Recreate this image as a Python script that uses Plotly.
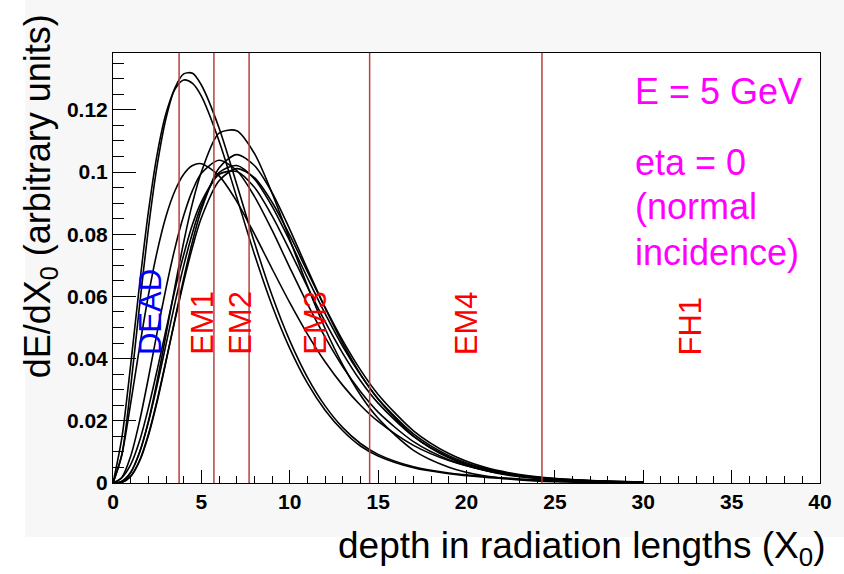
import plotly.graph_objects as go

# Depth grid (radiation lengths) shared by all longitudinal profiles
depth = [0, 0.5, 1, 1.5, 2, 2.5, 3, 3.5, 4, 4.5, 5, 6, 7, 8, 9, 10,
         11, 12, 13, 14, 15, 17, 19, 21, 23, 25, 27, 30]

# dE/dX0 profiles for individual 5 GeV showers
profile_1 = [0, .0091, .0309, .0569, .0817, .1022, .1173, .1270, .1316, .1318, .1280, .1142,
             .0961, .0774, .0603, .0458, .0340, .0248, .0178, .0127, .0092, .0052, .0032,
             .0021, .0013, .0008, .0004, .0001]
profile_2 = [0, .0145, .0380, .0637, .0871, .1058, .1189, .1266, .1296, .1285, .1244, .1100,
             .0919, .0736, .0571, .0433, .0321, .0234, .0168, .0119, .0087, .0049, .0030,
             .0019, .0012, .0007, .0004, .0001]
profile_3 = [0, .0091, .0256, .0436, .0603, .0745, .0858, .0939, .0993, .1021, .1027, .0988,
             .0906, .0801, .0689, .0580, .0479, .0390, .0314, .0250, .0198, .0121, .0072,
             .0042, .0024, .0014, .0008, .0003]
profile_4 = [0, .0006, .0034, .0098, .0198, .0329, .0477, .0630, .0775, .0901, .1000, .1125,
             .1133, .1060, .0932, .0784, .0634, .0497, .0380, .0283, .0208, .0105, .0051,
             .0023, .0010, .0004, .0002, 0]
profile_5 = [0, .0002, .0021, .0070, .0152, .0262, .0391, .0526, .0658, .0778, .0879, .1013,
             .1056, .1021, .0934, .0816, .0688, .0563, .0449, .0350, .0269, .0151, .0081,
             .0041, .0020, .0010, .0005, .0001]
profile_6 = [0, .0018, .0086, .0198, .0337, .0485, .0627, .0754, .0860, .0941, .0996, .1038,
             .1005, .0922, .0813, .0693, .0576, .0469, .0374, .0294, .0228, .0133, .0075,
             .0041, .0022, .0011, .0006, .0002]
profile_7 = [0, .0005, .0034, .0098, .0195, .0315, .0446, .0577, .0699, .0805, .0892, .0998,
             .1021, .0978, .0890, .0779, .0660, .0545, .0439, .0348, .0271, .0158, .0088,
             .0047, .0025, .0013, .0007, .0002]
profile_8 = [0, .0002, .0022, .0072, .0156, .0267, .0394, .0522, .0647, .0759, .0853, .0972,
             .1011, .0982, .0903, .0797, .0680, .0565, .0458, .0364, .0285, .0168, .0095,
             .0051, .0027, .0014, .0008, .0002]
profile_9 = [0, .0017, .0059, .0135, .0241, .0364, .0493, .0620, .0734, .0832, .0904, .0993,
             .1002, .0951, .0859, .0748, .0631, .0519, .0417, .0329, .0257, .0150, .0084,
             .0045, .0024, .0012, .0006, .0002]
profiles = [profile_1, profile_2, profile_3, profile_4, profile_5,
            profile_6, profile_7, profile_8, profile_9]

# Calorimeter layer boundaries and layer names
boundaries = [3.74, 5.71, 7.70, 14.52, 24.27]
layer_names = ["DEAD", "EM1", "EM2", "EM3", "EM4", "FH1"]
layer_label_x = [2.09, 5.02, 7.17, 11.46, 19.98, 32.7]
layer_colors = ["#0000ff", "#ff0000", "#ff0000", "#ff0000", "#ff0000", "#ff0000"]
layer_label_y = 0.0405

x_ticks = [0, 5, 10, 15, 20, 25, 30, 35, 40]
y_ticks = [0, 0.02, 0.04, 0.06, 0.08, 0.1, 0.12]

FONT = "Liberation Sans, Arial, Helvetica, sans-serif"

fig = go.Figure()
for prof in profiles:
    fig.add_trace(go.Scatter(
        x=depth, y=prof, mode="lines",
        line=dict(color="black", width=1.6, shape="spline", smoothing=0.8),
        showlegend=False, hoverinfo="skip"))

shapes = []
# layer boundaries as vertical lines over the full pad height
for b in boundaries:
    shapes.append(dict(type="line", xref="x", yref="paper", x0=b, x1=b, y0=0, y1=1,
                       line=dict(color="#b8403c", width=1.5), layer="above"))

annotations = []
for name, xl, col in zip(layer_names, layer_label_x, layer_colors):
    annotations.append(dict(x=xl, y=layer_label_y, xref="x", yref="y", text=name,
                            textangle=-90, showarrow=False, xanchor="center",
                            yanchor="bottom", font=dict(family=FONT, size=31, color=col)))

info_lines = [("E = 5 GeV", 0.1258), ("eta = 0", 0.1032), ("(normal", 0.0890),
              ("incidence)", 0.0742)]
for txt, yy in info_lines:
    annotations.append(dict(x=29.40, y=yy, xref="x", yref="y", text=txt, showarrow=False,
                            xanchor="left", yanchor="middle",
                            font=dict(family=FONT, size=36, color="#ff00ff")))

annotations.append(dict(x=-0.103, y=0.667, xref="paper", yref="paper",
                        text="dE/dX<sub>0</sub> (arbitrary units)", textangle=-90,
                        showarrow=False, xanchor="center", yanchor="middle",
                        font=dict(family=FONT, size=36, color="black")))
annotations.append(dict(x=1.0095, y=-0.151, xref="paper", yref="paper",
                        text="depth in radiation lengths (X<sub>0</sub>)",
                        showarrow=False, xanchor="right", yanchor="middle",
                        font=dict(family=FONT, size=37, color="black")))

# ROOT-style canvas: light grey pad, white border strips outside it
shapes.append(dict(type="rect", xref="paper", yref="paper", x0=-0.2, x1=-0.1241,
                   y0=-0.3, y1=1.2, fillcolor="white", line=dict(width=0), layer="below"))
shapes.append(dict(type="rect", xref="paper", yref="paper", x0=-0.2, x1=1.2,
                   y0=-0.3, y1=-0.1256, fillcolor="white", line=dict(width=0), layer="below"))

tickfont = dict(family=FONT, size=21, color="black", weight="bold")
fig.update_layout(
    width=844, height=574,
    margin=dict(l=113, r=22, t=53, b=91),
    paper_bgcolor="#f7f7f7", plot_bgcolor="white",
    shapes=shapes, annotations=annotations,
    xaxis=dict(range=[0, 40], tickvals=x_ticks, ticks="inside", ticklen=13,
               tickcolor="black", tickwidth=1, showline=True, linecolor="black",
               linewidth=1, mirror=True, showgrid=False, zeroline=False,
               tickfont=tickfont,
               minor=dict(dtick=1, ticks="inside", ticklen=7, tickcolor="black",
                          showgrid=False)),
    yaxis=dict(range=[0, 0.1383], tickvals=y_ticks, ticks="inside", ticklen=23,
               tickcolor="black", tickwidth=1, showline=True, linecolor="black",
               linewidth=1, mirror=True, showgrid=False, zeroline=False,
               tickfont=tickfont,
               minor=dict(dtick=0.005, tick0=0, ticks="inside", ticklen=11,
                          tickcolor="black", showgrid=False)),
)

fig.write_html("out.html")
